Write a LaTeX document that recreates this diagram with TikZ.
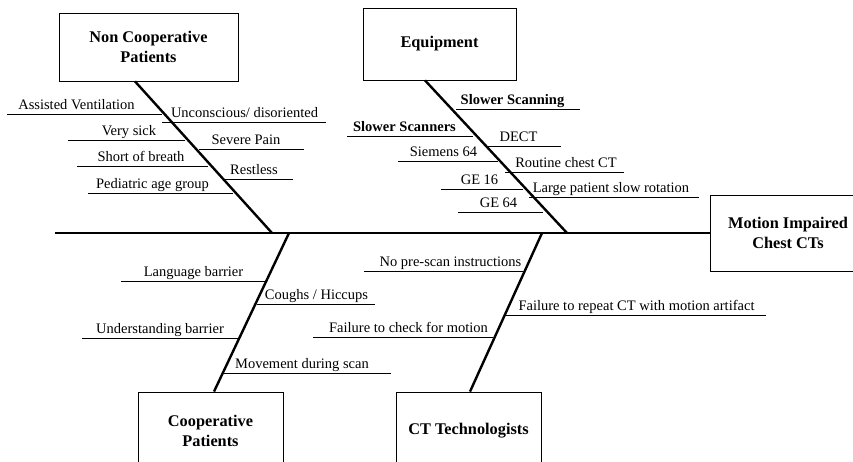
\documentclass[tikz,border=0pt]{standalone}
\usepackage{fontspec}
\setmainfont{Liberation Serif}
\usetikzlibrary{calc}

\begin{document}
\begin{tikzpicture}[x=1pt, y=-1pt,
    spine/.style={line width=2.6pt},
    bone/.style={line width=2.4pt},
    causeLine/.style={line width=0.8pt},
    cause/.style={inner sep=0pt, anchor=base, font=\fontsize{14.5}{17}\selectfont},
    effectBox/.style={draw, line width=0.8pt, inner sep=0pt, align=center,
        font=\bfseries\fontsize{16.3}{20}\selectfont}]

    % Fix the page size
    \clip (0,0) rectangle (853,462);

    % Draw category boxes
    \node[effectBox, minimum width=179pt, minimum height=68pt] (nonCoop) at (148.5,47) {Non Cooperative\\Patients};
    \node[effectBox, minimum width=153pt, minimum height=72pt] (equip) at (439.5,44) {Equipment};
    \node[effectBox, minimum width=145pt, minimum height=78pt] (coop) at (210.5,431) {Cooperative\\Patients};
    \node[effectBox, minimum width=145pt, minimum height=78pt] (ctTech) at (468.5,431) {CT Technologists};
    \node[effectBox, minimum width=156pt, minimum height=76pt] (motion) at (788,233) {Motion Impaired\\Chest CTs};

    % Draw the spine
    \coordinate (tail) at (55,233);
    \draw[spine] (tail) -- (motion.west);

    % Define where the bones join the spine
    \coordinate (ncJoin) at (272,233);
    \coordinate (eqJoin) at (567,233);
    \coordinate (coJoin) at (289,233);
    \coordinate (ctJoin) at (542,233);

    % Draw the bones
    \draw[bone] ([xshift=-13.5pt]nonCoop.south) -- (ncJoin);
    \draw[bone] ([xshift=-14.5pt]equip.south) -- (eqJoin);
    \draw[bone] (coJoin) -- ([xshift=3.5pt]coop.north);
    \draw[bone] (ctJoin) -- ([xshift=1.5pt]ctTech.north);

    % Non cooperative patients causes
    \foreach \cx/\ly/\xa/\xb/\txt [count=\i] in {
        76.5/114/7/162/Assisted Ventilation,
        129/140/68/185/Very sick,
        141/166/77/208/Short of breath,
        152.5/193/88/233/Pediatric age group,
        244.5/122/162/326/{Unconscious/ disoriented},
        246/149/199/304/Severe Pain,
        254/179/223/293/Restless}
    {
        \node[cause] (nc\i) at (\cx,\ly-4.5) {\txt};
        \draw[causeLine] (\xa,\ly) -- (\xb,\ly);
    }

    % Equipment causes
    \foreach \cx/\ly/\xa/\xb/\txt [count=\i] in {
        512.5/109/456/580/\textbf{Slower Scanning},
        404.5/136/347/473/\textbf{Slower Scanners},
        518.5/146/488/561/DECT,
        443.5/161/398/498/Siemens 64,
        566/172/505/624/Routine chest CT,
        479.5/189/441/523/GE 16,
        611/197/529/699/Large patient slow rotation,
        498.5/212/458/543/GE 64}
    {
        \node[cause] (eq\i) at (\cx,\ly-4.5) {\txt};
        \draw[causeLine] (\xa,\ly) -- (\xb,\ly);
    }

    % Cooperative patients causes
    \foreach \cx/\ly/\xa/\xb/\txt [count=\i] in {
        193.5/281/121/267/Language barrier,
        160/338/82/239/Understanding barrier,
        316.5/304/257/375/{Coughs / Hiccups},
        302/373/224/391/Movement during scan}
    {
        \node[cause] (co\i) at (\cx,\ly-4.5) {\txt};
        \draw[causeLine] (\xa,\ly) -- (\xb,\ly);
    }

    % CT technologists causes
    \foreach \cx/\ly/\xa/\xb/\txt [count=\i] in {
        450.5/271/364/523/No pre-scan instructions,
        408.5/337/313/493/Failure to check for motion,
        636.5/315/506/766/Failure to repeat CT with motion artifact}
    {
        \node[cause] (ct\i) at (\cx,\ly-4.5) {\txt};
        \draw[causeLine] (\xa,\ly) -- (\xb,\ly);
    }

\end{tikzpicture}
\end{document}
